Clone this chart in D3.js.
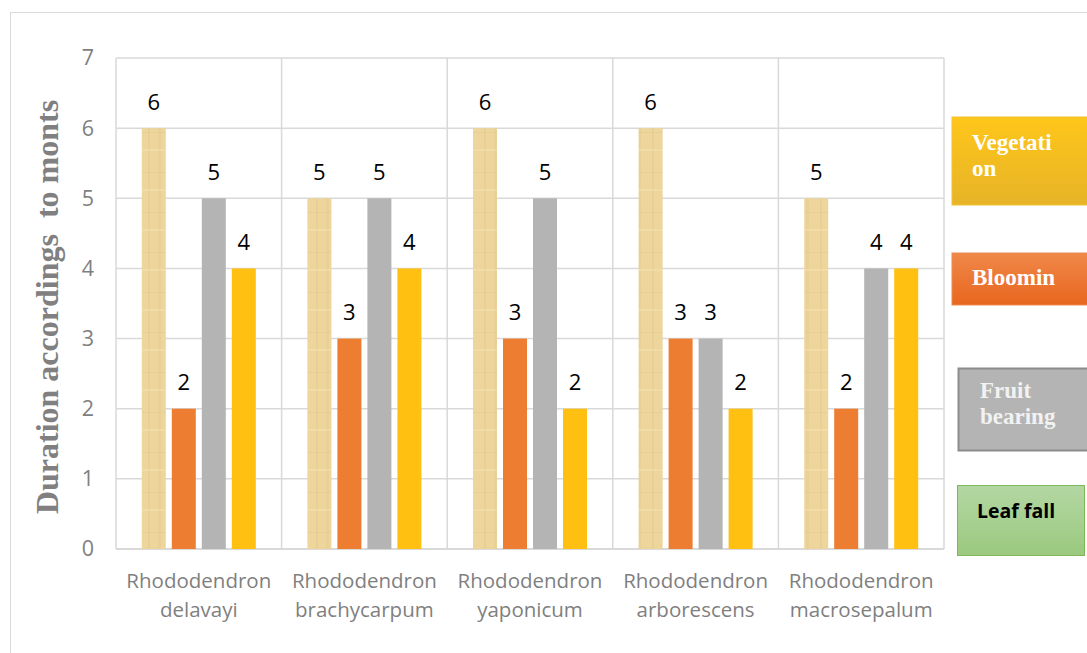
<!DOCTYPE html>
<html>
<head>
<meta charset="utf-8">
<script src="https://cdn.jsdelivr.net/npm/d3@7"></script>
<style>
  body { margin: 0; background: #fff; }
  .tick text { font-family: "Open Sans", sans-serif; fill: #7f7f7f; }
</style>
</head>
<body>
<div id="main"></div>
<script>
const ctx = {
    w: 1087,
    h: 653,
    left: 116, right: 944, top: 58, bottom: 549,
};

// data
const species = ["Rhododendron delavayi", "Rhododendron brachycarpum", "Rhododendron yaponicum",
                 "Rhododendron arborescens", "Rhododendron macrosepalum"];
const seriesNames = ["Vegetation", "Blooming", "Fruit bearing", "Leaf fall"];
const vegetation = [6, 5, 6, 6, 5];
const blooming = [2, 3, 3, 3, 2];
const fruitBearing = [5, 5, 5, 3, 4];
const leafFall = [4, 4, 2, 2, 4];
const yTicks = [0, 1, 2, 3, 4, 5, 6, 7];

const seriesValues = [vegetation, blooming, fruitBearing, leafFall];
const seriesFill = ["url(#papyrus)", "#ED7D31", "#B4B4B4", "#FFC012"];

function createViz(){
    let svg = d3.select("#main").append("svg")
                .attr("width", ctx.w).attr("height", ctx.h);
    let defs = svg.append("defs");

    // tan papyrus-ish texture for the vegetation bars
    let pat = defs.append("pattern").attr("id", "papyrus")
                  .attr("patternUnits", "userSpaceOnUse")
                  .attr("width", 24).attr("height", 40);
    pat.append("rect").attr("width", 24).attr("height", 40).attr("fill", "#EDD59C");
    pat.append("rect").attr("x", 4).attr("width", 2).attr("height", 40).attr("fill", "#E3C98D").attr("opacity", 0.5);
    pat.append("rect").attr("x", 14).attr("width", 3).attr("height", 40).attr("fill", "#E6CC90").attr("opacity", 0.5);
    pat.append("rect").attr("y", 12).attr("width", 24).attr("height", 1).attr("fill", "#DCC287").attr("opacity", 0.4);
    pat.append("rect").attr("y", 29).attr("width", 24).attr("height", 2).attr("fill", "#F3DFAC").attr("opacity", 0.7);

    const grads = [
        ["gVeg", "#FFC61A", "#E6B428"],
        ["gBloom", "#F0884A", "#E8661E"],
        ["gLeaf", "#B3D7A3", "#9BC97F"],
    ];
    grads.forEach(g => {
        let lg = defs.append("linearGradient").attr("id", g[0])
                     .attr("x1", 0).attr("y1", 0).attr("x2", 0).attr("y2", 1);
        lg.append("stop").attr("offset", "0%").attr("stop-color", g[1]);
        lg.append("stop").attr("offset", "100%").attr("stop-color", g[2]);
    });

    // chart frame
    svg.append("rect").attr("x", 10.5).attr("y", 12.5)
       .attr("width", ctx.w).attr("height", ctx.h)
       .attr("fill", "none").attr("stroke", "#D9D9D9");

    ctx.x0 = d3.scaleBand().domain(species).range([ctx.left, ctx.right]);
    ctx.x1 = d3.scaleBand().domain(seriesNames).range([0, ctx.x0.bandwidth()])
               .paddingInner(0.2).paddingOuter(0.86);
    ctx.y = d3.scaleLinear().domain([0, 7]).range([ctx.bottom, ctx.top]);

    // horizontal gridlines
    svg.append("g").selectAll("line").data(yTicks).enter().append("line")
       .attr("x1", ctx.left).attr("x2", ctx.right)
       .attr("y1", d => ctx.y(d)).attr("y2", d => ctx.y(d))
       .attr("stroke", "#D9D9D9").attr("stroke-width", d => d == 0 ? 2 : 1.5);
    // vertical gridlines at category boundaries
    let bounds = species.map(s => ctx.x0(s)).concat([ctx.right]);
    svg.append("g").selectAll("line").data(bounds).enter().append("line")
       .attr("x1", d => d).attr("x2", d => d)
       .attr("y1", ctx.top).attr("y2", ctx.bottom)
       .attr("stroke", "#D9D9D9").attr("stroke-width", 1.5);

    // y axis labels
    let yAxis = svg.append("g").attr("transform", "translate(94,0)")
       .call(d3.axisLeft(ctx.y).tickValues(yTicks).tickFormat(d3.format("d"))
               .tickSize(0).tickPadding(0));
    yAxis.select(".domain").remove();
    yAxis.selectAll("text").style("font-size", "21.5px");

    // x labels (two lines)
    svg.append("g").selectAll("text").data(species).enter().append("text")
       .attr("text-anchor", "middle")
       .attr("x", d => ctx.x0(d) + ctx.x0.bandwidth()/2)
       .attr("y", 588)
       .style("font-family", "Open Sans, sans-serif").style("font-size", "20.5px")
       .attr("fill", "#7f7f7f")
       .each(function(d){
           let parts = d.split(" ");
           d3.select(this).append("tspan").attr("x", ctx.x0(d) + ctx.x0.bandwidth()/2).text(parts[0]);
           d3.select(this).append("tspan").attr("x", ctx.x0(d) + ctx.x0.bandwidth()/2)
             .attr("dy", 29).text(parts[1]);
       });

    // bars
    let rows = [];
    species.forEach((s, i) => {
        seriesNames.forEach((n, j) => rows.push({sp: s, ser: n, j: j, v: seriesValues[j][i]}));
    });
    svg.append("g").selectAll("rect").data(rows).enter().append("rect")
       .attr("x", d => ctx.x0(d.sp) + ctx.x1(d.ser))
       .attr("width", ctx.x1.bandwidth())
       .attr("y", d => ctx.y(d.v))
       .attr("height", d => ctx.y(0) - ctx.y(d.v))
       .attr("fill", d => seriesFill[d.j]);

    // value labels
    svg.append("g").selectAll("text").data(rows).enter().append("text")
       .attr("text-anchor", "middle")
       .attr("x", d => ctx.x0(d.sp) + ctx.x1(d.ser) + ctx.x1.bandwidth()/2)
       .attr("y", d => ctx.y(d.v) - 26)
       .attr("dy", "0.35em")
       .style("font-family", "Open Sans, sans-serif").style("font-size", "22px")
       .attr("fill", "#000")
       .text(d => d.v);

    // y axis title
    svg.append("text")
       .attr("transform", "translate(58,307) rotate(-90)")
       .attr("text-anchor", "middle")
       .style("font-family", "Liberation Serif, serif").style("font-weight", "bold")
       .style("font-size", "32px").attr("fill", "#808080")
       .attr("xml:space", "preserve")
       .text("Duration accordings  to monts");

    // legend boxes (drawn as free shapes in the original)
    const boxes = [
        {x: 952, y: 117, w: 140, h: 88, fill: "url(#gVeg)", stroke: "#F2C230", lines: ["Vegetati", "on"],
         tx: 972, ty: 150, color: "#fff", serif: true},
        {x: 952, y: 253, w: 140, h: 52, fill: "url(#gBloom)", stroke: "#EE8A50", lines: ["Bloomin"],
         tx: 972, ty: 285, color: "#fff", serif: true},
        {x: 958.5, y: 368.5, w: 140, h: 82, fill: "#B4B4B4", stroke: "#8C8C8C", sw: 2, lines: ["Fruit", "bearing"],
         tx: 980, ty: 398, color: "#F2F2F2", serif: true},
        {x: 957.5, y: 485.5, w: 127, h: 70, fill: "url(#gLeaf)", stroke: "#7DB85A", lines: ["Leaf fall"],
         tx: 977, ty: 518, color: "#000", serif: false},
    ];
    let lg = svg.append("g");
    boxes.forEach(b => {
        lg.append("rect").attr("x", b.x).attr("y", b.y).attr("width", b.w).attr("height", b.h)
          .attr("fill", b.fill).attr("stroke", b.stroke).attr("stroke-width", b.sw || 1);
        let t = lg.append("text").attr("x", b.tx).attr("y", b.ty)
          .style("font-family", b.serif ? "Liberation Serif, serif" : "Open Sans, sans-serif")
          .style("font-weight", "bold").style("font-size", b.serif ? "23px" : "19.5px")
          .attr("fill", b.color);
        b.lines.forEach((l, k) => t.append("tspan").attr("x", b.tx).attr("dy", k ? 26 : 0).text(l));
    });
}

createViz();
</script>
</body>
</html>
